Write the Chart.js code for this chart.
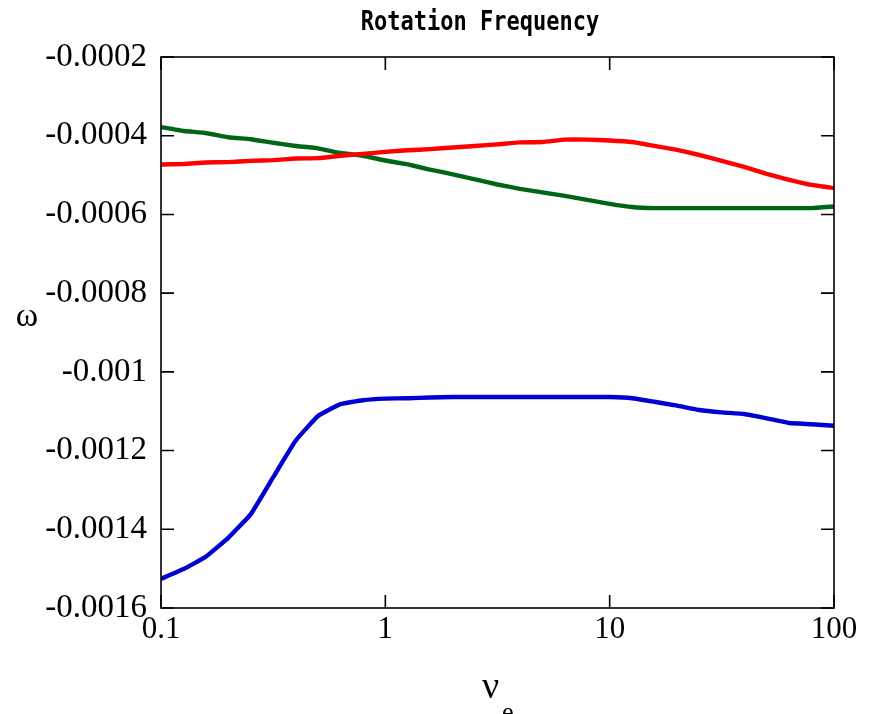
<!DOCTYPE html>
<html>
<head>
<meta charset="utf-8">
<script src="https://cdn.jsdelivr.net/npm/chart.js@4/dist/chart.umd.min.js"></script>
<style>
  html, body { margin: 0; padding: 0; background: #ffffff; }
  canvas { display: block; }
</style>
</head>
<body>
<canvas id="chart" width="877" height="714"></canvas>
<script>
// Electron collision frequency (log-spaced samples)
const nu = [0.1, 0.126, 0.158, 0.2, 0.251, 0.316, 0.398, 0.501, 0.631, 0.794,
            1, 1.26, 1.58, 2, 2.51, 3.16, 3.98, 5.01, 6.31, 7.94,
            10, 12.6, 15.8, 20, 25.1, 31.6, 39.8, 50.1, 63.1, 79.4, 100];

// Rotation frequency for the three modes
const omegaRed = [-0.000473, -0.000472, -0.000468, -0.000467, -0.000464, -0.000462, -0.000458, -0.000457, -0.000451, -0.000446,
                  -0.000441, -0.000437, -0.000434, -0.000430, -0.000426, -0.000422, -0.000417, -0.000416, -0.000410, -0.000410,
                  -0.000412, -0.000416, -0.000426, -0.000436, -0.000449, -0.000464, -0.000479, -0.000497, -0.000512, -0.000525, -0.000533];

const omegaGreen = [-0.000378, -0.000388, -0.000393, -0.000404, -0.000409, -0.000418, -0.000426, -0.000432, -0.000444, -0.000451,
                    -0.000463, -0.000473, -0.000486, -0.000498, -0.000511, -0.000524, -0.000535, -0.000544, -0.000553, -0.000563,
                    -0.000573, -0.000581, -0.000584, -0.000584, -0.000584, -0.000584, -0.000584, -0.000584, -0.000584, -0.000584, -0.000580];

const omegaBlue = [-0.001526, -0.001501, -0.001470, -0.001421, -0.001362, -0.001268, -0.001175, -0.001112, -0.001082, -0.001072,
                   -0.001068, -0.001067, -0.001065, -0.001064, -0.001064, -0.001064, -0.001064, -0.001064, -0.001064, -0.001064,
                   -0.001064, -0.001067, -0.001076, -0.001086, -0.001097, -0.001103, -0.001107, -0.001118, -0.001130, -0.001133, -0.001137];

const xTickValues = [0.1, 1, 10, 100];
const xTickLabels = ['0.1', '1', '10', '100'];
const yTickValues = [-0.0016, -0.0014, -0.0012, -0.001, -0.0008, -0.0006, -0.0004, -0.0002];
const yTickLabels = ['-0.0016', '-0.0014', '-0.0012', '-0.001', '-0.0008', '-0.0006', '-0.0004', '-0.0002'];

const titleText = 'Rotation Frequency';
const yTitle = 'ω';
const xTitleMain = 'ν';
const xTitleSub = 'e';

const toPoints = ys => nu.map((x, i) => ({ x: x, y: ys[i] }));

const serif = '"Liberation Serif", "Times New Roman", serif';

// Box frame with inward ticks on all four sides, plus titles
const framePlugin = {
  id: 'frame',
  afterDraw(chart) {
    const { ctx, chartArea: a, scales } = chart;
    const xs = scales.x, ys = scales.y;
    const tick = 13;
    ctx.save();
    ctx.strokeStyle = '#000';
    ctx.lineWidth = 1.6;
    ctx.strokeRect(a.left, a.top, a.right - a.left, a.bottom - a.top);
    ctx.beginPath();
    xTickValues.forEach(v => {
      const px = xs.getPixelForValue(v);
      ctx.moveTo(px, a.bottom); ctx.lineTo(px, a.bottom - tick);
      ctx.moveTo(px, a.top); ctx.lineTo(px, a.top + tick);
    });
    yTickValues.forEach(v => {
      const py = ys.getPixelForValue(v);
      ctx.moveTo(a.left, py); ctx.lineTo(a.left + tick, py);
      ctx.moveTo(a.right, py); ctx.lineTo(a.right - tick, py);
    });
    ctx.stroke();

    // Title, slightly condensed typewriter look (taller than wide)
    ctx.fillStyle = '#000';
    ctx.save();
    ctx.translate(480, 30);
    ctx.scale(1, 1.22);
    ctx.font = 'bold 22px "DejaVu Sans Mono", monospace';
    ctx.textAlign = 'center';
    ctx.textBaseline = 'alphabetic';
    ctx.fillText(titleText, 0, 0);
    ctx.restore();

    // Y axis title
    ctx.textAlign = 'center';
    ctx.textBaseline = 'alphabetic';
    ctx.font = '34px ' + serif;
    ctx.fillText(yTitle, 27, 326);

    // X axis title with subscript
    ctx.font = '38px ' + serif;
    ctx.textAlign = 'left';
    ctx.fillText(xTitleMain, 482, 698);
    ctx.font = '26px ' + serif;
    ctx.fillText(xTitleSub, 502, 720);
    ctx.restore();
  }
};

new Chart(document.getElementById('chart'), {
  type: 'line',
  data: {
    datasets: [
      { data: toPoints(omegaRed), borderColor: '#ff0000' },
      { data: toPoints(omegaGreen), borderColor: '#006616' },
      { data: toPoints(omegaBlue), borderColor: '#0000d2' }
    ]
  },
  options: {
    responsive: false,
    animation: false,
    devicePixelRatio: 1,
    layout: { padding: { top: 57, right: 43, left: 0, bottom: 0 } },
    elements: {
      point: { radius: 0 },
      line: { borderWidth: 4.4, tension: 0.1, fill: false, borderCapStyle: 'butt', borderJoinStyle: 'round' }
    },
    plugins: {
      legend: { display: false },
      tooltip: { enabled: false },
      title: { display: false }
    },
    scales: {
      x: {
        type: 'logarithmic',
        min: 0.1,
        max: 100,
        grid: { display: false, drawTicks: false },
        border: { display: false },
        afterBuildTicks: s => { s.ticks = xTickValues.map(v => ({ value: v })); },
        afterFit: s => { s.height = 106; },
        ticks: {
          color: '#000',
          font: { family: serif, size: 31 },
          padding: 3,
          maxRotation: 0,
          autoSkip: false,
          callback: (v, i) => xTickLabels[i]
        }
      },
      y: {
        type: 'linear',
        min: -0.0016,
        max: -0.0002,
        grid: { display: false, drawTicks: false },
        border: { display: false },
        afterBuildTicks: s => { s.ticks = yTickValues.map(v => ({ value: v })); },
        afterFit: s => { s.width = 161; },
        ticks: {
          color: '#000',
          font: { family: serif, size: 33 },
          padding: 14,
          autoSkip: false,
          callback: (v, i) => yTickLabels[i]
        }
      }
    }
  },
  plugins: [framePlugin]
});
</script>
</body>
</html>
